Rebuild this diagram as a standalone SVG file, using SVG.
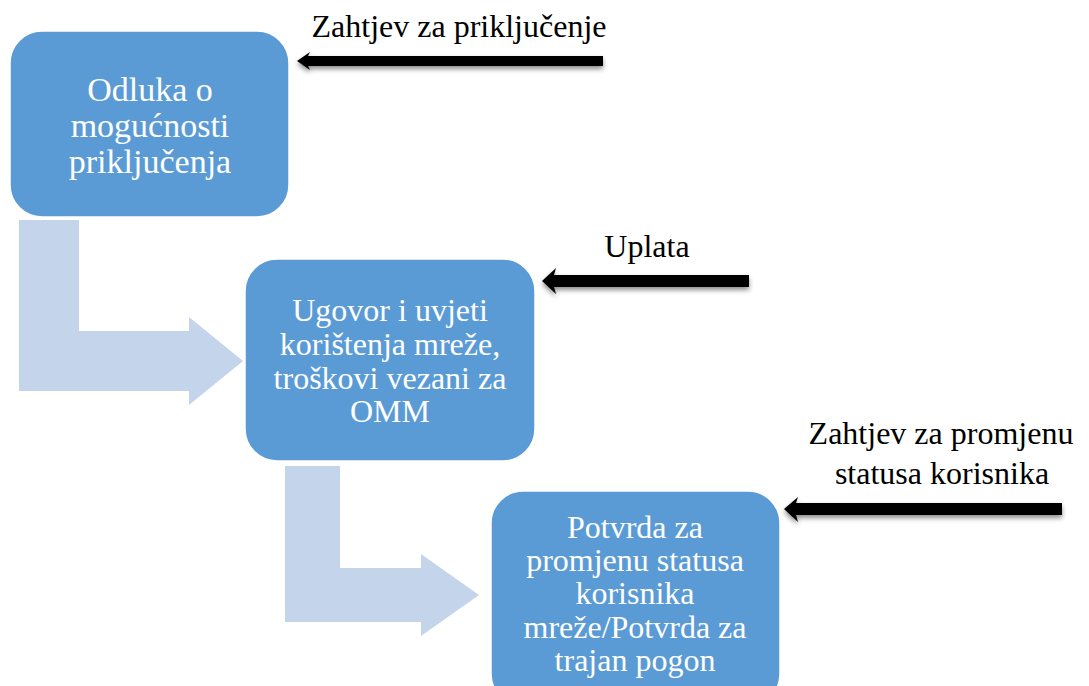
<svg xmlns="http://www.w3.org/2000/svg" width="1089" height="686" viewBox="0 0 1089 686">
<defs>
<style>
.box{fill:#5B9BD5;stroke:#ffffff;stroke-width:1.5}
.bt{font-family:"Liberation Serif","Times New Roman",serif;font-size:32px;fill:#ffffff;text-anchor:middle}
.b1{font-size:34px}
.lb{font-family:"Liberation Serif","Times New Roman",serif;font-size:32px;fill:#000000;text-anchor:middle}
.flow{fill:#C4D5EB}
.blk{fill:#000000;filter:url(#sh)}
</style>
<filter id="sh" x="-10%" y="-100%" width="120%" height="300%">
<feDropShadow dx="0" dy="3" stdDeviation="2.5" flood-color="#000000" flood-opacity="0.45"/>
</filter>
</defs>
<g id="connectors">
<polygon class="flow" points="19,220 79,220 79,331 189,331 189,317 243,361 189,405 189,391 19,391"/>
<polygon class="flow" points="285,466 340,466 340,568 421,568 421,554 479,595 421,636 421,622 285,622"/>
<polygon class="blk" points="297,61 310,52 308,56 603,56 603,66 308,66 310,70"/>
<polygon class="blk" points="542,281 556,268 554,275 749,275 749,287 554,287 556,294"/>
<polygon class="blk" points="784,509 798,497 796,503 1062,503 1062,515 796,515 798,522"/>
</g>
<g id="node1">
<rect class="box" x="10" y="31" width="279" height="186" rx="32" ry="32"/>
<text class="bt b1" x="150" y="101">Odluka o</text>
<text class="bt b1" x="150" y="137">mogućnosti</text>
<text class="bt b1" x="150" y="173">priključenja</text>
</g>
<g id="node2">
<rect class="box" x="245" y="259" width="290" height="202" rx="32" ry="32"/>
<text class="bt" x="390" y="321">Ugovor i uvjeti</text>
<text class="bt" x="390" y="355">korištenja mreže,</text>
<text class="bt" x="390" y="389">troškovi vezani za</text>
<text class="bt" x="390" y="422">OMM</text>
</g>
<g id="node3">
<rect class="box" x="491" y="491" width="289" height="215" rx="32" ry="32"/>
<text class="bt" x="635" y="538">Potvrda za</text>
<text class="bt" x="635" y="571">promjenu statusa</text>
<text class="bt" x="635" y="604">korisnika</text>
<text class="bt" x="635" y="638">mreže/Potvrda za</text>
<text class="bt" x="635" y="671">trajan pogon</text>
</g>
<g id="label1"><text class="lb" x="459" y="37">Zahtjev za priključenje</text></g>
<g id="label2"><text class="lb" x="647" y="257">Uplata</text></g>
<g id="label3">
<text class="lb" x="941" y="444">Zahtjev za promjenu</text>
<text class="lb" x="942" y="484">statusa korisnika</text>
</g>
</svg>
